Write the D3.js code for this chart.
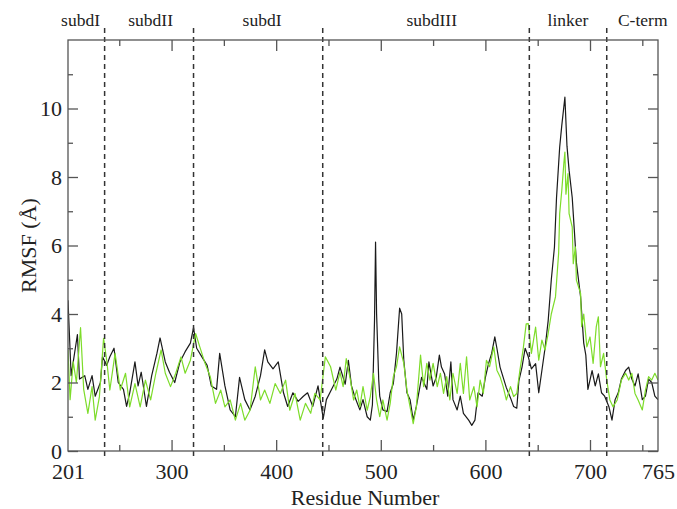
<!DOCTYPE html>
<html>
<head>
<meta charset="utf-8">
<script src="https://cdn.jsdelivr.net/npm/d3@7"></script>
<style>
  html, body { margin: 0; padding: 0; background: #fff; }
  svg { display: block; }
  text { font-family: "Liberation Serif", "DejaVu Serif", serif; fill: #222; }
</style>
</head>
<body>
<svg id="chart" width="677" height="509"></svg>
<script>
// ---------- data ----------
const blackRes = [201,204,208,210,212,217,220,224,227,232,234,238,241,245,249,254,257,260,265,268,271,276,281,286,289,294,298,303,308,313,318,321,324,329,334,338,343,346,351,356,361,365,370,375,380,385,389,392,397,402,407,411,416,421,426,430,435,440,445,448,453,458,461,466,469,472,475,480,483,487,490,492,494,495,496,498,499,502,506,509,512,515,518,520,522,525,528,531,534,539,544,546,550,553,556,558,561,564,567,569,573,576,579,584,587,590,593,597,600,603,606,609,611,614,617,620,624,627,630,632,635,638,641,644,648,651,654,657,660,663,666,668,671,673,676,678,680,683,685,687,691,694,696,698,702,705,708,711,714,718,721,724,727,730,734,737,740,743,746,750,753,756,759,762,765];
const blackRmsf = [4.4,2.2,3.0,3.4,2.1,2.2,1.8,2.2,1.6,2.0,2.75,2.5,2.75,3.0,2.0,1.8,1.3,1.7,2.6,1.9,2.3,1.3,2.2,2.85,3.3,2.6,2.3,2.0,2.6,2.9,3.15,3.6,3.0,2.75,2.5,1.9,1.8,2.85,1.9,1.2,1.0,2.15,1.5,1.2,1.6,2.2,2.95,2.6,2.4,2.6,1.7,1.3,1.7,1.45,1.6,1.7,1.3,1.9,0.95,1.5,1.8,2.1,2.45,1.95,2.65,1.9,1.6,1.2,1.5,1.0,0.9,1.35,3.8,6.1,4.0,2.1,1.6,1.2,1.15,1.7,1.97,2.85,4.17,4.0,2.65,1.7,1.5,0.9,1.3,2.15,1.8,2.6,1.9,2.15,2.8,2.45,2.25,1.6,2.6,1.5,1.2,1.6,1.1,0.9,0.75,0.9,1.7,1.6,2.15,2.55,2.85,3.33,3.0,2.45,2.15,1.85,1.55,1.3,1.25,2.05,2.45,3.0,2.75,2.4,2.55,1.7,2.35,3.0,3.8,5.0,5.95,7.4,8.87,9.5,10.33,8.9,8.2,7.4,6.45,5.5,4.5,3.15,2.8,1.8,2.35,1.9,2.25,1.7,1.6,1.3,0.9,1.5,1.7,2.1,2.35,2.45,2.1,1.9,2.25,1.5,1.6,2.1,2.0,1.6,1.5];

const greenRes = [201,203,206,209,213,216,220,224,227,231,235,238,241,246,251,256,260,265,270,275,280,285,290,294,299,304,309,313,318,323,327,332,337,342,347,351,356,361,366,370,375,380,385,389,394,399,404,409,413,418,423,428,433,437,442,447,452,457,461,464,467,471,474,477,480,483,487,490,493,496,499,502,506,509,512,515,518,522,525,528,531,534,538,541,544,547,550,554,557,560,563,566,569,573,576,579,582,585,589,592,595,598,601,604,608,611,614,617,620,624,627,630,633,636,639,641,644,648,651,654,657,660,663,667,670,671,673,675,676,677,679,680,683,684,686,687,691,692,694,697,700,703,706,708,710,713,716,719,722,726,730,734,737,740,743,746,750,753,756,759,762,765];
const greenRmsf = [2.95,1.5,2.6,2.0,3.6,1.8,1.1,1.88,0.9,1.58,3.29,2.65,1.78,2.85,1.78,2.27,1.29,1.97,1.29,2.07,1.49,2.27,2.95,2.27,1.88,2.27,2.75,2.27,2.65,3.43,3.04,2.56,2.17,1.39,1.78,1.29,1.49,0.9,1.39,0.9,1.19,2.46,1.49,1.78,1.39,1.97,1.68,2.07,1.19,1.68,0.9,1.39,1.1,1.68,1.49,2.75,2.46,1.78,2.3,1.88,2.7,2.07,1.49,1.78,1.29,1.88,1.19,1.59,2.27,1.49,1.0,1.49,0.9,1.39,2.17,2.46,3.04,2.56,1.78,1.29,0.8,1.29,2.8,1.88,2.56,2.07,2.56,1.88,2.27,1.68,2.17,1.49,2.27,1.68,2.56,1.68,2.75,1.49,1.88,1.29,2.07,1.68,2.65,2.46,3.04,2.36,2.17,1.88,1.49,1.88,1.59,1.68,2.36,2.95,3.71,3.72,2.85,3.62,2.65,3.24,2.95,3.43,4.0,4.5,5.77,6.93,7.6,8.4,8.73,7.5,8.1,6.93,6.54,5.47,5.96,4.99,4.6,3.63,4.0,3.04,3.33,2.56,3.63,3.92,2.46,2.85,2.07,1.49,1.29,1.49,2.07,2.27,2.07,2.27,1.68,1.49,1.2,1.78,2.17,2.07,2.27,2.07,2.2];

const majorX = [300,400,500,600,700];
const minorX = [250,350,450,550,650,750];
const xLabels = [201,300,400,500,600,700,765];
const majorY = [0,2,4,6,8,10];
const minorY = [1,3,5,7,9,11];
const dividers = [236,321,444.5,642,716];
const regionNames = ["subdI","subdII","subdI","subdIII","linker","C-term"];
const regionCenters = [213,280,386.5,548.7,679,750.4];

// ---------- layout ----------
const svg = d3.select("#chart");
const L = 68, R = 658, T = 40, B = 451;
const x = d3.scaleLinear().domain([201,765]).range([L,R]);
const y = d3.scaleLinear().domain([0,12]).range([B,T]);
const axisColor = "#555";

// data lines
const line = d3.line().x(d => x(d[0])).y(d => y(d[1]));
const blackData = blackRes.map((r,i) => [r, blackRmsf[i]]);
const greenData = greenRes.map((r,i) => [r, greenRmsf[i]]);

const clip = svg.append("defs").append("clipPath").attr("id","clip")
  .append("rect").attr("x",L).attr("y",T).attr("width",R-L).attr("height",B-T);

const g = svg.append("g").attr("clip-path","url(#clip)");
g.append("path").datum(blackData).attr("d",line)
  .attr("fill","none").attr("stroke","#1a1a1a").attr("stroke-width",1.2).attr("stroke-linejoin","round");
g.append("path").datum(greenData).attr("d",line)
  .attr("fill","none").attr("stroke","#7ddc2a").attr("stroke-width",1.2).attr("stroke-linejoin","round");

// dividers
svg.selectAll("line.div").data(dividers).enter().append("line")
  .attr("class","div")
  .attr("x1",d=>x(d)).attr("x2",d=>x(d))
  .attr("y1",28).attr("y2",457)
  .attr("stroke","#333").attr("stroke-width",1.5).attr("stroke-dasharray","5,4");

// frame
svg.append("rect").attr("x",L).attr("y",T).attr("width",R-L).attr("height",B-T)
  .attr("fill","none").attr("stroke",axisColor).attr("stroke-width",1.3);

function styleAxis(sel){
  sel.select(".domain").remove();
  sel.selectAll(".tick line").attr("stroke",axisColor).attr("stroke-width",1.3);
  sel.selectAll("text").style("font-family",'"Liberation Serif", "DejaVu Serif", serif')
    .style("font-size","22px").attr("fill","#222");
}

// bottom axis
svg.append("g").attr("transform",`translate(0,${B})`)
  .call(d3.axisBottom(x).tickValues(xLabels).tickSize(0).tickPadding(12).tickFormat(d3.format("d")))
  .call(styleAxis);
svg.append("g").attr("transform",`translate(0,${B})`)
  .call(d3.axisBottom(x).tickValues(majorX).tickSize(-11).tickFormat(""))
  .call(styleAxis);
svg.append("g").attr("transform",`translate(0,${B})`)
  .call(d3.axisBottom(x).tickValues(minorX).tickSize(-6).tickFormat(""))
  .call(styleAxis);
// top axis
svg.append("g").attr("transform",`translate(0,${T})`)
  .call(d3.axisTop(x).tickValues(majorX).tickSize(-11).tickFormat(""))
  .call(styleAxis);
svg.append("g").attr("transform",`translate(0,${T})`)
  .call(d3.axisTop(x).tickValues(minorX).tickSize(-6).tickFormat(""))
  .call(styleAxis);
// left axis
svg.append("g").attr("transform",`translate(${L},0)`)
  .call(d3.axisLeft(y).tickValues(majorY).tickSize(-10).tickPadding(6).tickFormat(d3.format("d")))
  .call(styleAxis);
svg.append("g").attr("transform",`translate(${L},0)`)
  .call(d3.axisLeft(y).tickValues(minorY).tickSize(-5).tickFormat(""))
  .call(styleAxis);
// right axis
svg.append("g").attr("transform",`translate(${R},0)`)
  .call(d3.axisRight(y).tickValues(majorY).tickSize(-10).tickFormat(""))
  .call(styleAxis);
svg.append("g").attr("transform",`translate(${R},0)`)
  .call(d3.axisRight(y).tickValues(minorY).tickSize(-5).tickFormat(""))
  .call(styleAxis);

// axis titles
svg.append("text").attr("x",(L+R)/2+2).attr("y",505).attr("text-anchor","middle")
  .style("font-size","22px").text("Residue Number");
svg.append("text").attr("transform",`translate(36,${(T+B)/2}) rotate(-90)`)
  .attr("text-anchor","middle").style("font-size","22px").text("RMSF (Å)");

// region labels
svg.selectAll("text.region").data(regionNames).enter().append("text")
  .attr("class","region")
  .attr("x",(d,i)=>x(regionCenters[i])).attr("y",26)
  .attr("text-anchor","middle").style("font-size","17.5px").text(d=>d);
</script>
</body>
</html>
